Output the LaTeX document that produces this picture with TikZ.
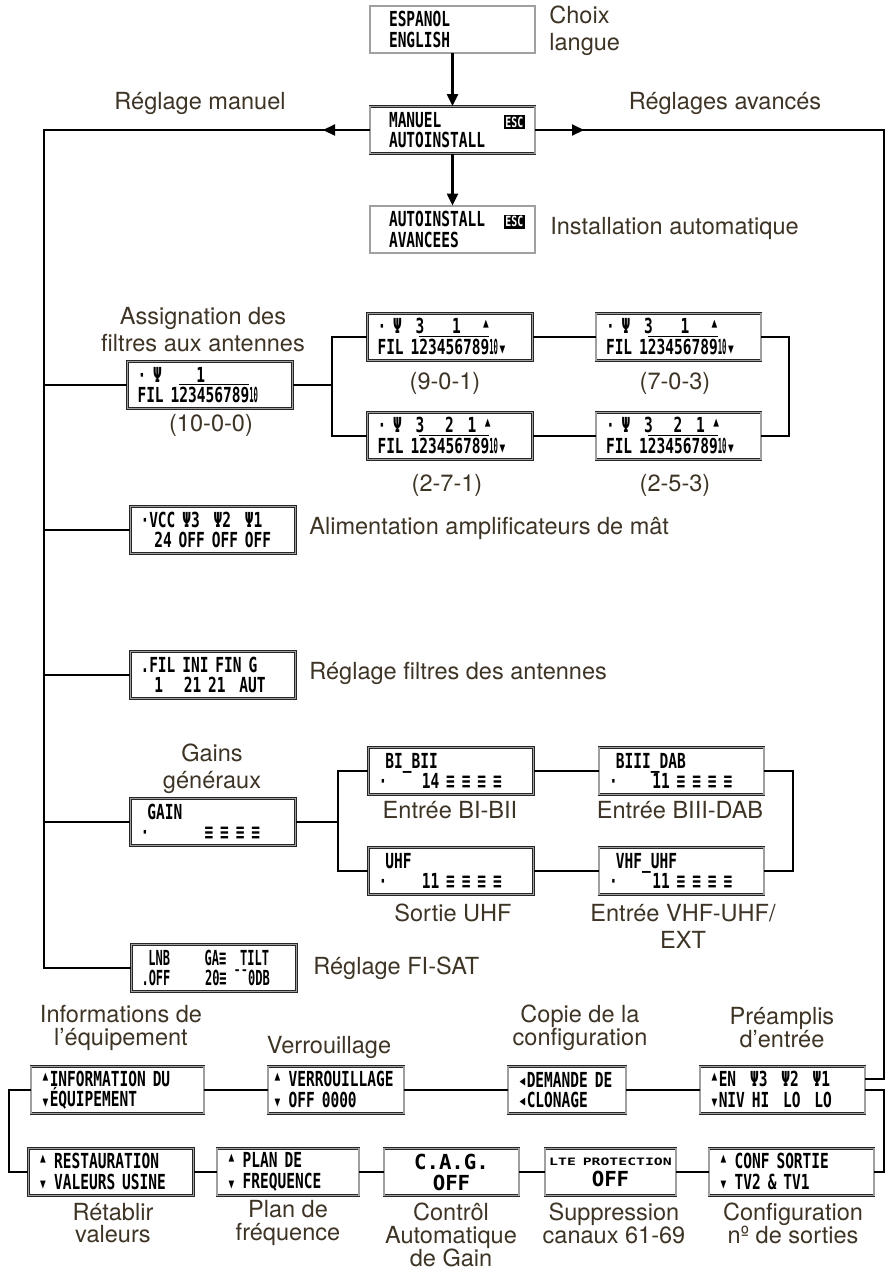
\documentclass[tikz,border=0pt]{standalone}
\usepackage{fontspec}
\usepackage{graphicx}
\usepackage{xcolor}
\setmainfont{TeX Gyre Heros}
\newfontfamily\lcdfont[FakeStretch=0.7]{DejaVu Sans Mono}
\newfontfamily\lcdnarrow[FakeStretch=0.58]{DejaVu Sans Mono}
\newfontfamily\lcdwide[FakeStretch=1.45]{DejaVu Sans Mono}
\newfontfamily\lcdplain{DejaVu Sans Mono}
\definecolor{labelBrown}{RGB}{62,52,38}
\definecolor{lcdRim}{RGB}{160,160,160}
\usetikzlibrary{arrows.meta,positioning,calc}

\newcommand{\lcdspace}{\spaceskip=\fontcharwd\font`0\relax}
\newcommand{\escicon}{{\setlength{\fboxsep}{1pt}\colorbox{black}{\textcolor{white}{\fontsize{8}{8}\selectfont\lcdfont\bfseries ESC}}}}
\newcommand{\ovl}[1]{$\overline{\hbox{#1}}$}
\newcommand{\tenc}{\scalebox{0.5}[1]{10}}
\newcommand{\upmark}{\raisebox{0.35ex}{▴}}
\newcommand{\dnmark}{\raisebox{-0.15ex}{▾}}
\newcommand{\ltmark}{◂}

\begin{document}
\begin{tikzpicture}[x=0.02cm, y=-0.02cm,
  lcd/.style={draw=black!85, line width=0.45pt, double=lcdRim, double distance=0.7pt,
              fill=white, font=\fontsize{11.8}{11.6}\selectfont\lcdfont\bfseries\lcdspace,
              align=left, inner xsep=0.2cm, inner ysep=0pt, minimum height=0.94cm, text width=#1},
  lcd/.default=2.9cm,
  lbl/.style={text=labelBrown, font=\fontsize{13.4}{#1}\selectfont, align=center, inner sep=0pt},
  lbl/.default=15.3pt,
  link/.style={line width=1.2pt},
  arr/.style={link, -{Triangle[length=0.24cm, width=0.22cm]}}
]
  \useasboundingbox (0,0) rectangle (889,1269);

  \node[lcd] (lang)   at (452.5,29.5) {\hspace*{0.18cm}ESPANOL\\\hspace*{0.18cm}ENGLISH};
  \node[lcd] (manuel) at (452.5,130)  {\hspace*{0.18cm}MANUEL\hfill\escicon\hspace*{0.2cm}\\\hspace*{0.18cm}AUTOINSTALL};
  \node[lcd] (auto)   at (452.5,229.5){\hspace*{0.18cm}AUTOINSTALL\hfill\escicon\hspace*{0.2cm}\\\hspace*{0.18cm}AVANCEES};

  \node[lbl, anchor=west, align=left] (choix) at (549,31) {Choix\\langue};
  \node[lbl] (rman)  at (200,103) {Réglage manuel};
  \node[lbl] (ravan) at (725,103) {Réglages avancés};
  \node[lbl, anchor=west] (instal) at (550,228) {Installation automatique};

  \node[lcd] (fil0)   at (210,385)   {·~Ψ~~~~~1\\FIL~1\ovl{23456789}\tenc};
  \node[lcd] (fil901) at (450,337)   {·~Ψ~~3~~~~1~~~\upmark\\FIL~1\ovl{23456789}\tenc\dnmark};
  \node[lcd] (fil271) at (450,436)   {·~Ψ~~3~~~2~~1~\upmark\\FIL~1\ovl{2}\ovl{345678}\ovl{9}\tenc\dnmark};
  \node[lcd] (fil703) at (678.5,337) {·~Ψ~~3~~~~1~~~\upmark\\FIL~1\ovl{23}\ovl{456789}\tenc\dnmark};
  \node[lcd] (fil253) at (678.5,436) {·~Ψ~~3~~~2~~1~\upmark\\FIL~1\ovl{23}\ovl{45678}\ovl{9}\tenc\dnmark};

  \node[lbl] (assig) at (203,330) {Assignation des\\filtres aux antennes};
  \node[lbl] (c0)   at (211,425) {(10-0-0)};
  \node[lbl] (c901) at (445,383) {(9-0-1)};
  \node[lbl] (c271) at (447,485) {(2-7-1)};
  \node[lbl] (c703) at (675,383) {(7-0-3)};
  \node[lbl] (c253) at (675,485) {(2-5-3)};

  \node[lcd] (vcc)    at (213,530) {·VCC~Ψ3~~Ψ2~~Ψ1\\~~24~OFF~OFF~OFF};
  \node[lcd] (filini) at (213,675) {.FIL~INI~FIN~G\\~~1~~~21~21~~AUT};
  \node[lbl, anchor=west] (alim)   at (309,528) {Alimentation amplificateurs de mât};
  \node[lbl, anchor=west] (regfil) at (309,673) {Réglage filtres des antennes};

  \node[lcd] (gain)  at (213,822)   {~GAIN\\·~~~~~~~~≡~≡~≡~≡};
  \node[lcd] (bibii) at (451,771)   {~BI\_BII\\·~~~~~14~≡~≡~≡~≡};
  \node[lcd] (uhf)   at (451,871)   {~UHF\\·~~~~~11~≡~≡~≡~≡};
  \node[lcd] (biii)  at (681.5,771) {~BIII\_DAB\\·~~~~~11~≡~≡~≡~≡};
  \node[lcd] (vhf)   at (681.5,871) {~VHF\_UHF\\·~~~~~11~≡~≡~≡~≡};

  \node[lbl] (gains) at (212,769)   {Gains\\généraux};
  \node[lbl] (ebi)   at (450,810)   {Entrée BI-BII};
  \node[lbl] (suhf)  at (453,913)   {Sortie UHF};
  \node[lbl] (ebiii) at (680,810)   {Entrée BIII-DAB};
  \node[lbl] (evhf)  at (683,926.5) {Entrée VHF-UHF/\\EXT};

  \node[lcd, font=\fontsize{11.8}{11.6}\selectfont\lcdnarrow\bfseries\lcdspace] (lnb) at (214,968)
    {~LNB~~~~~GA≡~~TILT\\.OFF~~~~~20≡~¯¯0DB};
  \node[lbl, anchor=west] (fisat) at (313,968) {Réglage FI-SAT};

  \node[lcd=3.06cm] (info) at (117.5,1090) {\upmark INFORMATION~DU\\\dnmark ÉQUIPEMENT};
  \node[lcd=2.52cm, inner xsep=0.1cm] (verrou) at (336,1090) {\upmark~VERROUILLAGE\\\dnmark~OFF~0000};
  \node[lcd=1.96cm] (demande) at (567,1090) {\ltmark DEMANDE~DE\\\ltmark CLONAGE};
  \node[lcd] (preampl) at (782.5,1090) {\upmark EN~~Ψ3~~Ψ2~~Ψ1\\\dnmark NIV~HI~~LO~~LO};

  \node[lbl=13pt] (infos) at (121,1028) {Informations de\\l’équipement};
  \node[lbl] (verl)  at (329,1047) {Verrouillage};
  \node[lbl=13pt] (copie) at (580,1028) {Copie de la\\configuration};
  \node[lbl=13pt] (pream) at (782,1028) {Préamplis\\d’entrée};

  \node[lcd] (restau) at (111,1172) {\upmark~RESTAURATION\\\dnmark~VALEURS~USINE};
  \node[lcd=2.44cm] (plan) at (288,1172) {\upmark~PLAN~DE\\\dnmark~FREQUENCE};
  \node[lcd=2.30cm, align=center, font=\fontsize{11.8}{12}\selectfont\lcdplain\bfseries] (cag) at (451.5,1172) {C.A.G.\\OFF};
  \node[lcd=2.46cm, inner xsep=0.08cm, align=center, font=\fontsize{11.8}{12}\selectfont\lcdplain\bfseries] (lte) at (610.5,1172)
    {{\fontsize{5.8}{7}\selectfont\lcdwide LTE~PROTECTION}\\OFF};
  \node[lcd] (conf) at (791.5,1172) {\upmark~CONF~SORTIE\\\dnmark~TV2~\&~TV1};

  \node[lbl=13pt] (retab) at (113,1223) {Rétablir\\valeurs};
  \node[lbl=13pt] (planl) at (288,1223) {Plan de\\fréquence};
  \node[lbl=13pt] (cagl)  at (451,1235) {Contrôl\\Automatique\\de Gain};
  \node[lbl=13pt] (suppl) at (614,1223) {Suppression\\canaux 61-69};
  \node[lbl=13pt] (confl) at (793,1223) {Configuration\\nº de sorties};

  \coordinate (trunk) at (44,130);
  \coordinate (rise)  at (884,130);
  \coordinate (tipL)  at (323,130);
  \coordinate (tipR)  at (584,130);
  \coordinate (filJ)  at (332,385);
  \coordinate (filR)  at (789,386);
  \coordinate (gainJ) at (338,822);
  \coordinate (gainR) at (793,822);
  \coordinate (loopL) at (9,1130);
  \coordinate (loopR) at (884,1130);

  \draw[arr] (lang) -- (manuel);
  \draw[arr] (manuel) -- (auto);
  \draw[link] (manuel.west) -- (trunk) |- (lnb.west);
  \draw[arr] (manuel.west) -- (tipL);
  \draw[link] (manuel.east) -- (rise) |- ($(preampl.east)+(0,-11)$);
  \draw[arr] (manuel.east) -- (tipR);

  \draw[link] (trunk |- fil0.west) -- (fil0.west);
  \draw[link] (trunk |- vcc.west) -- (vcc.west);
  \draw[link] (trunk |- filini.west) -- (filini.west);
  \draw[link] (trunk |- gain.west) -- (gain.west);

  \draw[link] (fil0.east) -- (filJ);
  \draw[link] (fil901.west) -| (filJ) |- (fil271.west);
  \draw[link] (fil901) -- (fil703);
  \draw[link] (fil271) -- (fil253);
  \draw[link] (fil703.east) -| (filR) |- (fil253.east);

  \draw[link] (gain.east) -- (gainJ);
  \draw[link] (bibii.west) -| (gainJ) |- (uhf.west);
  \draw[link] (bibii) -- (biii);
  \draw[link] (uhf) -- (vhf);
  \draw[link] (biii.east) -| (gainR) |- (vhf.east);

  \draw[link] (info) -- (verrou);
  \draw[link] (verrou) -- (demande);
  \draw[link] (demande) -- (preampl);
  \draw[link] (info.west) -| (loopL) |- (restau.west);
  \draw[link] (preampl.east) -| (loopR) |- (conf.east);
  \draw[link] (restau) -- (plan);
  \draw[link] (plan) -- (cag);
  \draw[link] (cag) -- (lte);
  \draw[link] (lte) -- (conf);
\end{tikzpicture}
\end{document}
